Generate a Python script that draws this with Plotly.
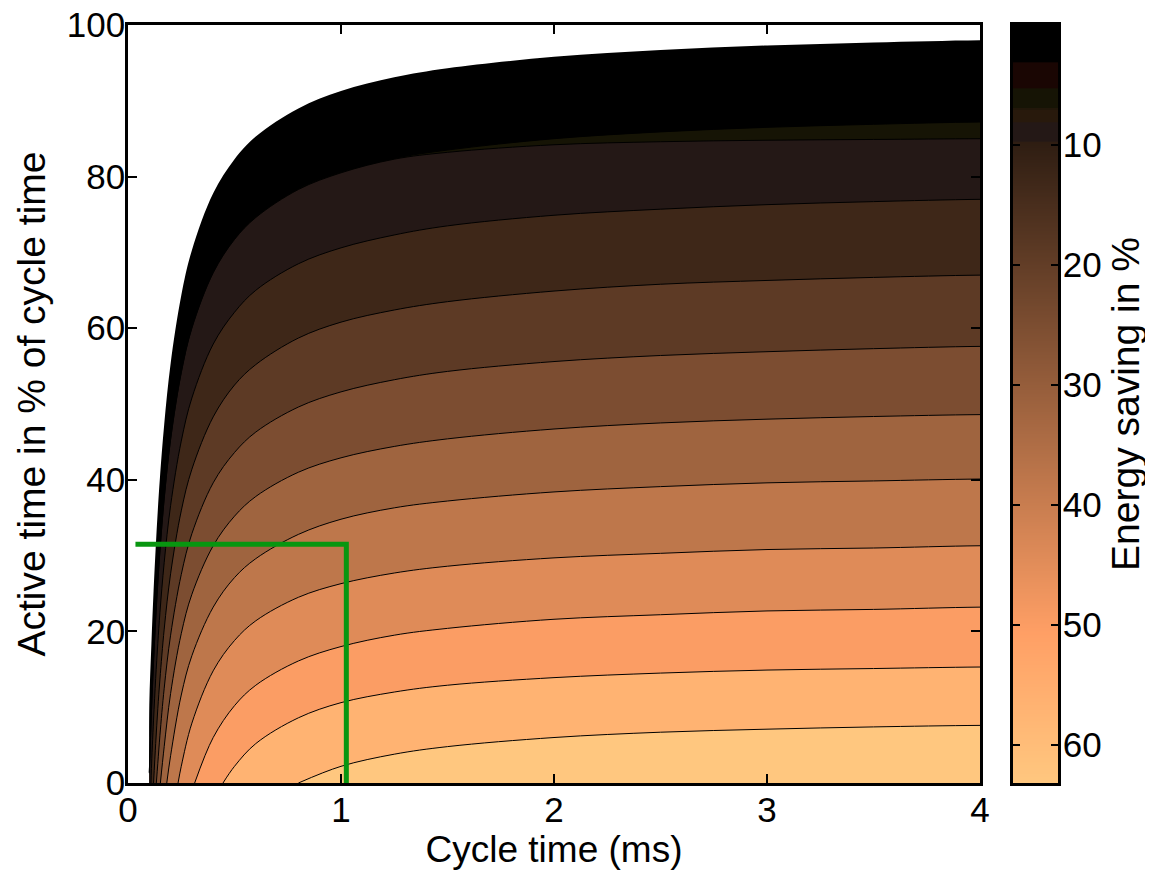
import plotly.graph_objects as go
from plotly.colors import sample_colorscale

# ---------------- data ----------------
# cycle time (ms) sample positions along every contour line
cycle_time = [0.10, 0.11, 0.12, 0.13, 0.14, 0.15, 0.17, 0.20, 0.25, 0.30, 0.40,
              0.50, 0.60, 0.80, 1.00, 1.25, 1.50, 2.00, 2.50, 3.00, 3.50, 4.00]

# active time (% of cycle time) of each contour boundary at those cycle times
# (None = the boundary is below the x axis there)
line_00 = [10.3, 18.4, 25.3, 31.0, 36.0, 40.3, 47.3, 55.3, 64.3, 70.3, 77.8,
           82.3, 85.3, 89.0, 91.3, 93.1, 94.3, 95.8, 96.7, 97.3, 97.7, 98.0]
line_01 = [1.4, 9.4, 16.1, 21.7, 26.5, 30.7, 37.6, 45.4, 54.2, 60.1, 67.4,
           71.8, 74.7, 78.4, 80.6, 82.4, 83.5, 85.0, 85.9, 86.5, 86.9, 87.2]
line_02 = [1.3, 9.3, 16.0, 21.6, 26.4, 30.6, 37.5, 45.3, 54.1, 60.0, 67.3,
           71.7, 74.6, 78.3, 80.5, 82.3, 83.2, 84.2, 84.6, 84.8, 84.9, 85.0]
line_03 = [None, 1.9, 8.3, 13.8, 18.4, 22.5, 29.1, 36.6, 45.1, 50.8, 57.9,
           62.1, 65.0, 68.5, 70.6, 72.3, 73.5, 74.9, 75.7, 76.3, 76.7, 77.0]
line_04 = [None, None, None, 5.2, 9.8, 13.7, 20.3, 27.6, 35.9, 41.4, 48.3,
           52.5, 55.2, 58.7, 60.8, 62.4, 63.5, 64.9, 65.8, 66.3, 66.7, 67.0]
line_05 = [None, None, None, None, 2.6, 6.3, 12.5, 19.5, 27.5, 32.9, 39.6,
           43.6, 46.3, 49.6, 51.6, 53.2, 54.3, 55.6, 56.4, 56.9, 57.3, 57.6]
line_06 = [None, None, None, None, None, None, 4.8, 11.8, 19.7, 24.9, 31.3,
           35.2, 37.8, 41.0, 42.9, 44.4, 45.4, 46.7, 47.5, 48.0, 48.35, 48.6]
line_07 = [None, None, None, None, None, None, None, 3.6, 11.6, 16.8, 23.2,
           27.1, 29.6, 32.8, 34.8, 36.3, 37.2, 38.4, 39.1, 39.6, 39.85, 40.1]
line_08 = [None, None, None, None, None, None, None, None, 2.2, 7.9, 14.8,
           18.8, 21.4, 24.5, 26.3, 27.7, 28.6, 29.7, 30.3, 30.8, 31.0, 31.3]
line_09 = [None, None, None, None, None, None, None, None, None, None, 6.0,
           10.2, 12.9, 16.1, 18.0, 19.5, 20.4, 21.6, 22.2, 22.7, 22.9, 23.2]
line_10 = [None, None, None, None, None, None, None, None, None, None, None,
           2.2, 5.2, 8.6, 10.6, 12.0, 12.9, 13.9, 14.5, 14.9, 15.1, 15.3]
line_11 = [None, None, None, None, None, None, None, None, None, None, None,
           None, None, None, 2.2, 3.8, 4.8, 6.0, 6.7, 7.1, 7.4, 7.6]

# cycle time where each boundary meets the bottom axis (None = starts at data edge)
x_at_zero = [None, None, None, 0.108, 0.120, 0.133, 0.152, 0.182, 0.235, 0.313, 0.446, 0.80]

# energy saving (%) of the band lying below each boundary
band_saving = [1.5, 6, 9, 13, 19, 25, 32, 38, 44.5, 50, 57, 63.2]

# operating point marked in green
op_cycle_time = 1.025
op_active = 31.5
op_line_start = 0.035

# colour-bar scale
saving_min, saving_max = 0.0, 63.2
cbar_ticks = [10, 20, 30, 40, 50, 60]
x_ticks = [0, 1, 2, 3, 4]
y_ticks = [0, 20, 40, 60, 80, 100]

# ---------------- colour scale (copper-like, with odd low end) ----------------
def p(v):
    return v / saving_max

colorscale = [
    [0.0, "rgb(0,0,0)"], [p(3.0), "rgb(0,0,0)"],
    [p(3.15), "rgb(26,6,3)"], [p(5.2), "rgb(26,6,3)"],
    [p(5.35), "rgb(22,20,5)"], [p(6.9), "rgb(22,20,5)"],
    [p(7.05), "rgb(40,25,12)"], [p(8.0), "rgb(40,25,12)"],
    [p(8.15), "rgb(36,24,22)"], [p(9.65), "rgb(36,24,22)"],
    [p(9.8), "rgb(46,29,18)"],
    [p(50.7), "rgb(255,159,101)"],
    [1.0, "rgb(255,199,127)"],
]

lines = [line_00, line_01, line_02, line_03, line_04, line_05,
         line_06, line_07, line_08, line_09, line_10, line_11]

x_lo, x_hi = cycle_time[0], cycle_time[-1]
pad_x, pad_y = 0.3, -6.0   # path construction points outside the visible axes

curves = []
for i, ys in enumerate(lines):
    px = [cycle_time[j] for j, v in enumerate(ys) if v is not None]
    py = [v for v in ys if v is not None]
    if x_at_zero[i] is not None:
        px = [x_at_zero[i]] + px
        py = [0] + py
    curves.append((px, py))

fig = go.Figure()

# filled bands, painted from the outermost (lowest saving) inwards
for i, (px, py) in enumerate(curves):
    if x_at_zero[i] is None:
        polx = [x_lo] + px
        poly = [0] + py
    else:
        polx = list(px)
        poly = list(py)
    polx = polx + [x_hi + pad_x, x_hi + pad_x, polx[0]]
    poly = poly + [py[-1], pad_y, pad_y]
    col = sample_colorscale(colorscale, [p(band_saving[i])])[0]
    fig.add_trace(go.Scatter(x=polx, y=poly, fill="toself", fillcolor=col,
                             mode="lines", line=dict(width=0, shape="spline", smoothing=1),
                             hoverinfo="skip", xaxis="x", yaxis="y"))

# contour lines
for i, (px, py) in enumerate(curves):
    if i == 0:
        continue
    fig.add_trace(go.Scatter(x=px + [x_hi + pad_x], y=py + [py[-1]], mode="lines",
                             line=dict(color="black", width=1, shape="spline", smoothing=1),
                             hoverinfo="skip", xaxis="x", yaxis="y"))

# green operating-point marker
fig.add_trace(go.Scatter(x=[op_line_start, op_cycle_time, op_cycle_time],
                         y=[op_active, op_active, 0], mode="lines",
                         line=dict(color="rgb(8,150,16)", width=5),
                         hoverinfo="skip", xaxis="x", yaxis="y"))

# colour bar drawn as its own small axis
n_steps = 633
cb_vals = [saving_min + (saving_max - saving_min) * k / (n_steps - 1) for k in range(n_steps)]
fig.add_trace(go.Heatmap(x=[0.5], y=cb_vals, z=[[v] for v in cb_vals],
                         colorscale=colorscale, zmin=saving_min, zmax=saving_max,
                         showscale=False, hoverinfo="skip",
                         xaxis="x2", yaxis="y2"))

font_family = "Liberation Sans, Arial, sans-serif"
axis_common = dict(showline=True, linewidth=2.5, linecolor="black",
                   showgrid=False, zeroline=False, ticks="inside",
                   tickcolor="black", tickwidth=2, automargin=False,
                   ticklabeloverflow="allow",
                   tickfont=dict(size=35, color="black", family=font_family))

# the page body adds an 8 px offset, so the figure is 8 px smaller than the window
fig.update_layout(
    width=1145, height=864,
    margin=dict(l=120, r=95, t=17, b=89),
    paper_bgcolor="white", plot_bgcolor="white",
    showlegend=False,
    font=dict(family=font_family, color="black", size=35),
    xaxis=dict(domain=[0, 852 / 930], range=[0, 4], tickvals=x_ticks,
               ticklen=9, mirror="ticks", ticklabelstandoff=-6,
               title=dict(text="Cycle time (ms)", font=dict(size=37), standoff=3),
               **axis_common),
    yaxis=dict(domain=[0, 1], range=[0, 100], tickvals=y_ticks,
               ticklen=9, mirror="ticks", ticklabelstandoff=-7,
               title=dict(text="Active time in % of cycle time", font=dict(size=39), standoff=10),
               **axis_common),
    xaxis2=dict(domain=[885 / 930, 1], range=[0, 1], anchor="y2",
                showline=True, linewidth=2.5, linecolor="black", mirror=True,
                showticklabels=False, ticks="", showgrid=False, zeroline=False,
                automargin=False),
    yaxis2=dict(domain=[0, 1], range=[saving_max, saving_min], anchor="x2",
                side="right", tickvals=cbar_ticks, ticklen=7, mirror="ticks",
                ticklabelstandoff=-5,
                title=dict(text="Energy saving in %", font=dict(size=39), standoff=12),
                **axis_common),
)

fig.write_html("out.html")
